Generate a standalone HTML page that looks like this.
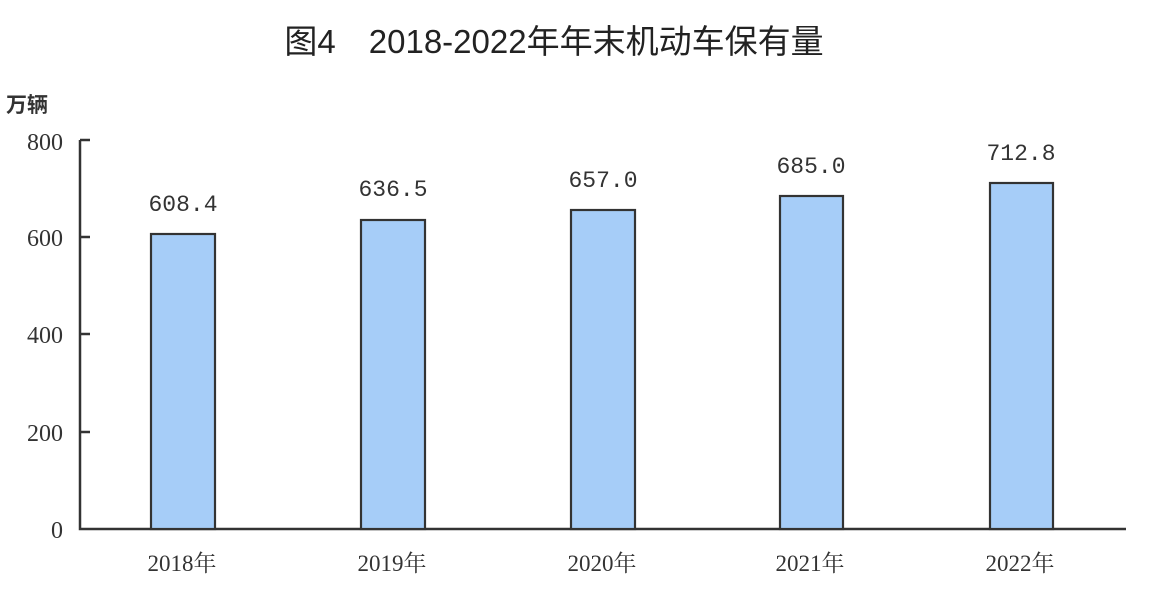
<!DOCTYPE html>
<html><head><meta charset="utf-8"><style>
html,body{margin:0;padding:0;background:#fff;}
svg text{font-family:"Liberation Serif","Noto Serif CJK SC",serif;fill:#333;}
svg text.m{font-family:"Liberation Mono","Noto Sans CJK SC",monospace;}
svg text.t{font-family:"Liberation Sans","Noto Sans CJK SC",sans-serif;fill:#222;}
svg text.u{font-family:"Noto Sans CJK SC",sans-serif;font-weight:bold;}
</style></head><body>
<svg width="1150" height="592" viewBox="0 0 1150 592" xmlns="http://www.w3.org/2000/svg">
<text class="t" x="554" y="53" text-anchor="middle" font-size="33">图4　2018-2022年年末机动车保有量</text>
<text class="u" x="6" y="112" font-size="21">万辆</text>
<g font-size="24" text-anchor="end">
<text x="63" y="150">800</text>
<text x="63" y="246">600</text>
<text x="63" y="343">400</text>
<text x="63" y="441">200</text>
<text x="63" y="538">0</text>
</g>
<g stroke="#333" stroke-width="2.5" fill="none">
<path d="M80 140 V529 H1126"/>
<path d="M80 140 H90 M80 237 H90 M80 334 H90 M80 432 H90"/>
</g>
<g fill="#a6cdf8" stroke="#333" stroke-width="2.2">
<rect x="151" y="234" width="64" height="295"/>
<rect x="361" y="220" width="64" height="309"/>
<rect x="571" y="210" width="64" height="319"/>
<rect x="780" y="196" width="63" height="333"/>
<rect x="990" y="183" width="63" height="346"/>
</g>
<g font-size="23" text-anchor="middle">
<text class="m" x="183" y="211">608.4</text>
<text class="m" x="393" y="196">636.5</text>
<text class="m" x="603" y="187">657.0</text>
<text class="m" x="811" y="173">685.0</text>
<text class="m" x="1021" y="160">712.8</text>
</g>
<g font-size="23" text-anchor="middle">
<text x="182" y="571">2018年</text>
<text x="392" y="571">2019年</text>
<text x="602" y="571">2020年</text>
<text x="810" y="571">2021年</text>
<text x="1020" y="571">2022年</text>
</g>
</svg>
</body></html>
